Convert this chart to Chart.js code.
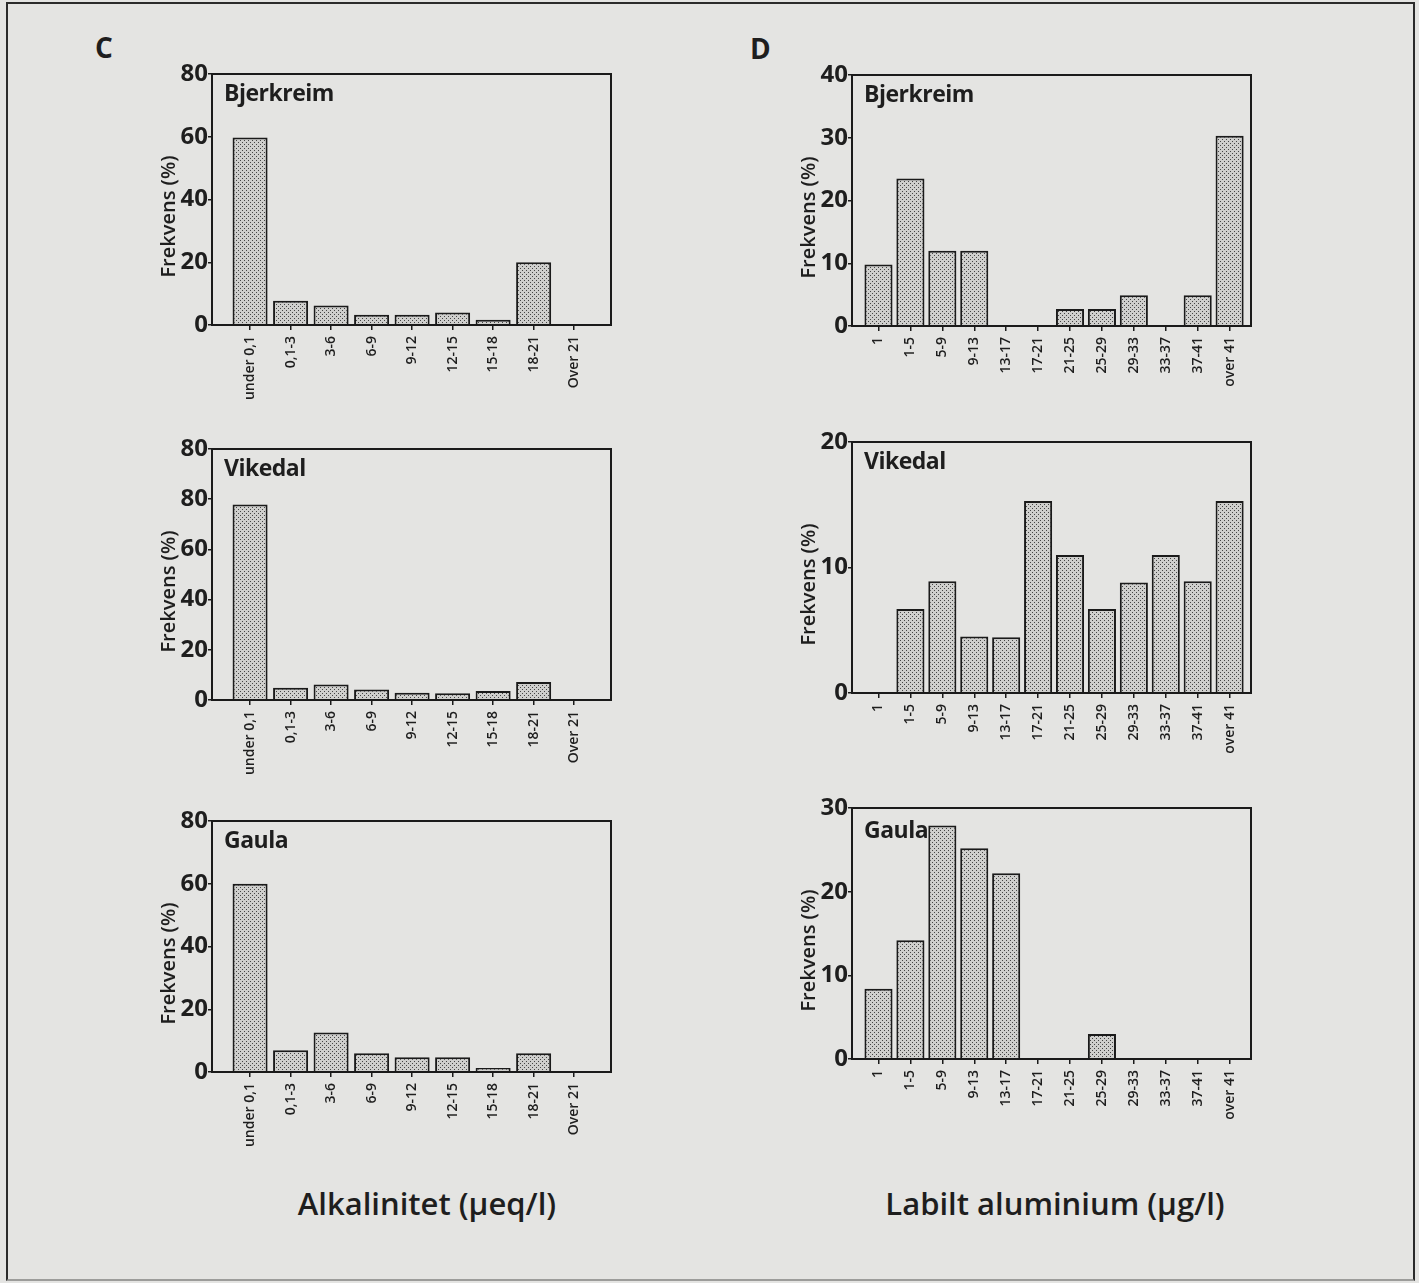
<!DOCTYPE html>
<html>
<head>
<meta charset="utf-8">
<script src="https://cdn.jsdelivr.net/npm/chart.js@4.4.0/dist/chart.umd.min.js"></script>
<style>
  body {
    margin: 0;
    width: 1419px;
    height: 1283px;
    position: relative;
    overflow: hidden;
    background: #e4e4e2;
    font-family: "Open Sans", sans-serif;
    color: #1e1e1e;
  }
  .frame {
    position: absolute;
    left: 6px; top: 2px;
    width: 1405px; height: 1275px;
    border: 2px solid #2b2b2b;
    border-bottom-color: #9c9c9a;
  }
  canvas { position: absolute; }
  .letter { position: absolute; font-size: 28px; font-weight: 700; line-height: 28px; }
  .xtitle { position: absolute; width: 400px; text-align: center; font-size: 31px; font-weight: 600; line-height: 31px; }
</style>
</head>
<body>
<div class="frame"></div>
<div class="letter" style="left:95px;top:33px">C</div>
<div class="letter" style="left:750px;top:34px">D</div>
<div class="xtitle" style="left:227px;top:1188px">Alkalinitet (µeq/l)</div>
<div class="xtitle" style="left:855px;top:1188px">Labilt aluminium (µg/l)</div>

<canvas id="c1" width="473" height="357" style="left:142px;top:58px"></canvas>
<canvas id="c2" width="473" height="357" style="left:142px;top:433px"></canvas>
<canvas id="c3" width="473" height="357" style="left:142px;top:805px"></canvas>
<canvas id="d1" width="473" height="357" style="left:782px;top:59px"></canvas>
<canvas id="d2" width="473" height="357" style="left:782px;top:426px"></canvas>
<canvas id="d3" width="473" height="357" style="left:782px;top:792px"></canvas>

<script>
// alkalinity classes (µeq/l) and labile aluminium classes (µg/l)
const alkClasses = ['under 0,1', '0,1-3', '3-6', '6-9', '9-12', '12-15', '15-18', '18-21', 'Over 21'];
const alClasses = ['1', '1-5', '5-9', '9-13', '13-17', '17-21', '21-25', '25-29', '29-33', '33-37', '37-41', 'over 41'];

// frequencies (%)
const alkBjerkreim = [59.8, 7.7, 6.2, 3.3, 3.3, 4.0, 1.7, 20.0, 0];
const alkVikedal = [77.9, 4.9, 6.2, 4.2, 2.9, 2.7, 3.6, 7.2, 0];
const alkGaula = [60.0, 6.9, 12.6, 6.0, 4.7, 4.7, 1.3, 6.0, 0];

const alBjerkreim = [9.8, 23.5, 12.0, 12.0, 0, 0, 2.7, 2.7, 4.9, 0, 4.9, 30.3];
const alVikedal = [0, 6.7, 8.9, 4.5, 4.45, 15.3, 11.0, 6.7, 8.8, 11.0, 8.9, 15.3];
const alGaula = [8.4, 14.2, 27.9, 25.2, 22.2, 0, 0, 3.0, 0, 0, 0, 0];

// y tick labels (the Vikedal alkalinity panel has "80" printed twice)
const alkTicks = ['0', '20', '40', '60', '80'];
const alkVikedalTicks = ['0', '20', '40', '60', '80', '80'];
const alBjerkreimTicks = ['0', '10', '20', '30', '40'];
const alVikedalTicks = ['0', '10', '20'];
const alGaulaTicks = ['0', '10', '20', '30'];

Chart.defaults.font.family = '"Open Sans", sans-serif';
Chart.defaults.color = '#1e1e1e';

function makeStipple() {
  const c = document.createElement('canvas');
  c.width = 4;
  c.height = 4;
  const g = c.getContext('2d');
  g.fillStyle = '#cfcfcd';
  g.fillRect(0, 0, 4, 4);
  g.fillStyle = '#454545';
  g.fillRect(0, 0, 1, 1);
  g.fillRect(2, 2, 1, 1);
  return g.createPattern(c, 'repeat');
}
const stipple = makeStipple();

// frame, panel name and rotated axis title
const panelDecor = {
  id: 'panelDecor',
  afterDatasetsDraw(chart, args, opts) {
    const { ctx, chartArea: a } = chart;
    ctx.save();
    ctx.strokeStyle = '#1a1a1a';
    ctx.lineWidth = 2;
    ctx.strokeRect(a.left, a.top, a.right - a.left, a.bottom - a.top);
    ctx.fillStyle = '#1e1e1e';
    ctx.font = '700 23px "Open Sans"';
    ctx.letterSpacing = '-0.5px';
    ctx.textBaseline = 'alphabetic';
    ctx.fillText(opts.name, a.left + 12, a.top + opts.nameDy);
    ctx.letterSpacing = '0px';
    ctx.translate(a.left - 43, (a.top + a.bottom) / 2 + 17);
    ctx.rotate(-Math.PI / 2);
    ctx.textAlign = 'center';
    ctx.textBaseline = 'middle';
    ctx.font = '600 20px "Open Sans"';
    ctx.fillText('Frekvens (%)', 0, 0);
    ctx.restore();
  }
};

function drawPanel(id, name, classes, values, tickLabels, step, xMin, xMax, barPct, nameDy) {
  new Chart(document.getElementById(id), {
    type: 'bar',
    data: {
      datasets: [{
        data: values.map((y, x) => ({ x, y })),
        backgroundColor: stipple,
        borderColor: '#1a1a1a',
        borderWidth: 2,
        barPercentage: barPct,
        categoryPercentage: 1
      }]
    },
    plugins: [panelDecor],
    options: {
      responsive: false,
      animation: false,
      devicePixelRatio: 1,
      layout: { padding: { top: 16, right: 4, bottom: 0, left: 0 } },
      plugins: {
        legend: { display: false },
        tooltip: { enabled: false },
        panelDecor: { name, nameDy }
      },
      scales: {
        x: {
          type: 'linear',
          min: xMin,
          max: xMax,
          offset: false,
          afterFit: (scale) => { scale.height = 90; },
          border: { color: '#1a1a1a', width: 2 },
          grid: { offset: false, drawOnChartArea: false, tickLength: 5, color: '#1a1a1a', lineWidth: 1.5 },
          ticks: {
            stepSize: 1,
            includeBounds: false,
            autoSkip: false,
            maxRotation: 90,
            minRotation: 90,
            padding: 6,
            font: { size: 14, weight: '600' },
            callback: (v) => classes[v] ?? ''
          }
        },
        y: {
          min: 0,
          max: step * (tickLabels.length - 1),
          afterFit: (scale) => { scale.width = 70; },
          border: { color: '#1a1a1a', width: 2 },
          grid: { drawOnChartArea: false, tickLength: 4, color: '#1a1a1a', lineWidth: 1.5 },
          ticks: {
            stepSize: step,
            padding: 0,
            font: { size: 24, weight: '700' },
            callback: (v, i) => tickLabels[i]
          }
        }
      }
    }
  });
}

drawPanel('c1', 'Bjerkreim', alkClasses, alkBjerkreim, alkTicks, 20, -0.94, 8.91, 0.865, 27);
drawPanel('c2', 'Vikedal', alkClasses, alkVikedal, alkVikedalTicks, 20, -0.94, 8.91, 0.865, 27);
drawPanel('c3', 'Gaula', alkClasses, alkGaula, alkTicks, 20, -0.94, 8.91, 0.865, 27);
drawPanel('d1', 'Bjerkreim', alClasses, alBjerkreim, alBjerkreimTicks, 10, -0.83, 11.67, 0.88, 27);
drawPanel('d2', 'Vikedal', alClasses, alVikedal, alVikedalTicks, 10, -0.83, 11.67, 0.88, 27);
drawPanel('d3', 'Gaula', alClasses, alGaula, alGaulaTicks, 10, -0.83, 11.67, 0.88, 30);
</script>
</body>
</html>
